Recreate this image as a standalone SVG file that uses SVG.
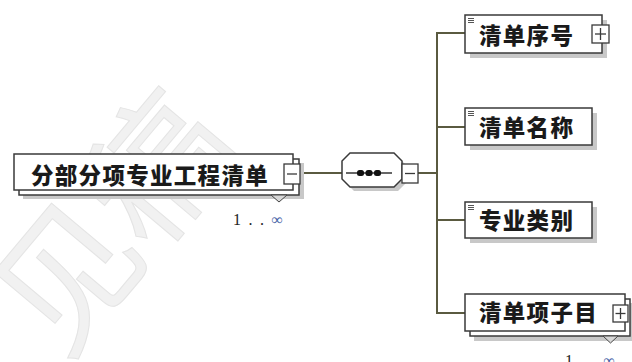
<svg xmlns="http://www.w3.org/2000/svg" width="632" height="362" viewBox="0 0 632 362">
<style>
.wm{font-family:"Noto Sans CJK SC","Noto Sans",sans-serif;font-size:140px;fill:#f1f1f1;stroke:#e4e4e4;stroke-width:1}
.box{fill:#fff;stroke:#3a3a3a;stroke-width:1.5}
.shd{fill:#c8c8c8}
.lbl{font-family:"Noto Sans CJK SC","Noto Sans",sans-serif;font-size:22.5px;font-weight:900;fill:#1a1a1a;letter-spacing:1.3px}
.btn{fill:#fff;stroke:#3a3a3a;stroke-width:1.3}
.sign{stroke:#3a3a3a;stroke-width:1.3;fill:none}
.con{stroke:#5a5a40;stroke-width:2;fill:none}
.card{font-family:"Liberation Serif",serif;font-size:16px;fill:#222}
.inf{fill:#4a66a8}
.ico{stroke:#555;stroke-width:1}
.notch{fill:#d8d8d8;stroke:#444;stroke-width:1}
</style>
<text class="wm" transform="translate(105,215) rotate(-50)" text-anchor="middle" dominant-baseline="central">见稿</text>

<g id="connectors">
  <line class="con" x1="300" y1="173" x2="342" y2="173"/>
  <line class="con" x1="418" y1="173" x2="437" y2="173"/>
  <line class="con" x1="437" y1="33" x2="437" y2="313"/>
  <line class="con" x1="436" y1="33" x2="465" y2="33"/>
  <line class="con" x1="437" y1="127" x2="465" y2="127"/>
  <line class="con" x1="437" y1="220" x2="465" y2="220"/>
  <line class="con" x1="436" y1="313" x2="465" y2="313"/>
</g>

<g id="node-main">
  <rect class="shd" x="23" y="163" width="281" height="36"/>
  <rect class="box" x="19" y="159" width="280" height="36"/>
  <rect class="box" x="14" y="154" width="279" height="36"/>
  <text class="lbl" x="31" y="183.5">分部分项专业工程清单</text>
  <rect class="btn" x="284" y="164" width="16" height="20"/>
  <line class="sign" x1="287" y1="174" x2="297" y2="174"/>
  <polygon class="notch" points="271,195 287,195 279,202"/>
  <text class="card" x="233" y="225" textLength="50" lengthAdjust="spacing">1..<tspan class="inf">∞</tspan></text>
</g>

<g id="node-sequence">
  <polygon class="shd" points="354,157 398,157 406,165 406,183 398,191 354,191 346,183 346,165"/>
  <polygon class="box" points="350,153 394,153 402,161 402,179 394,187 350,187 342,179 342,161"/>
  <line x1="346" y1="173" x2="392" y2="173" stroke="#333" stroke-width="1.5"/>
  <rect x="357" y="170" width="7" height="6" rx="2.5" fill="#111"/>
  <rect x="365.5" y="170" width="7" height="6" rx="2.5" fill="#111"/>
  <rect x="374" y="170" width="7" height="6" rx="2.5" fill="#111"/>
  <rect class="btn" x="402" y="164" width="16" height="19"/>
  <line class="sign" x1="405" y1="173.5" x2="415" y2="173.5"/>
</g>

<g id="node-qingdanxuhao">
  <rect class="shd" x="470" y="20" width="137" height="38"/>
  <rect class="box" x="465" y="15" width="137" height="38"/>
  <line class="ico" x1="468" y1="18.5" x2="474" y2="18.5"/>
  <line class="ico" x1="468" y1="20.5" x2="474" y2="20.5"/>
  <line class="ico" x1="468" y1="22.5" x2="474" y2="22.5"/>
  <text class="lbl" x="479" y="43.5">清单序号</text>
  <rect class="btn" x="592" y="25" width="17" height="18"/>
  <line class="sign" x1="595" y1="34" x2="606" y2="34"/>
  <line class="sign" x1="600.5" y1="28" x2="600.5" y2="40"/>
</g>

<g id="node-qingdanmingcheng">
  <rect class="shd" x="470" y="113" width="127" height="37"/>
  <rect class="box" x="465" y="108" width="127" height="37"/>
  <line class="ico" x1="468" y1="111.5" x2="474" y2="111.5"/>
  <line class="ico" x1="468" y1="113.5" x2="474" y2="113.5"/>
  <line class="ico" x1="468" y1="115.5" x2="474" y2="115.5"/>
  <text class="lbl" x="479" y="136">清单名称</text>
</g>

<g id="node-zhuanyeleibie">
  <rect class="shd" x="470" y="207" width="127" height="36"/>
  <rect class="box" x="465" y="202" width="127" height="36"/>
  <line class="ico" x1="468" y1="205.5" x2="474" y2="205.5"/>
  <line class="ico" x1="468" y1="207.5" x2="474" y2="207.5"/>
  <line class="ico" x1="468" y1="209.5" x2="474" y2="209.5"/>
  <text class="lbl" x="479" y="229">专业类别</text>
</g>

<g id="node-qingdanxiangzimu">
  <rect class="shd" x="474" y="303" width="162" height="38"/>
  <rect class="box" x="470" y="299" width="160" height="37"/>
  <rect class="box" x="465" y="294" width="160" height="37"/>
  <text class="lbl" x="479" y="321">清单项子目</text>
  <rect class="btn" x="613" y="305" width="15" height="17"/>
  <line class="sign" x1="615.5" y1="313.5" x2="625.5" y2="313.5"/>
  <line class="sign" x1="620.5" y1="308" x2="620.5" y2="319"/>
  <polygon class="notch" points="603,336 618,336 610.5,343"/>
  <text class="card" x="565" y="366" textLength="50" lengthAdjust="spacing">1..<tspan class="inf">∞</tspan></text>
</g>
</svg>
